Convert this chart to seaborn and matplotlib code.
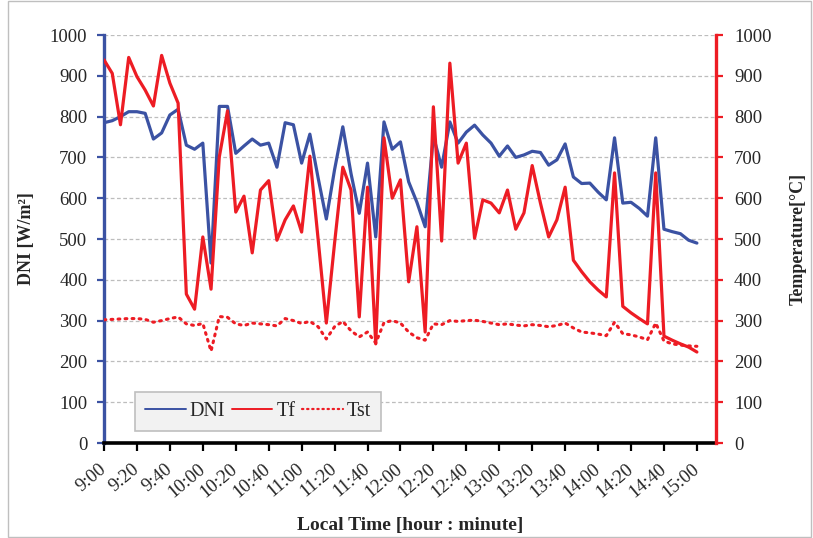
import matplotlib
matplotlib.use("Agg")
import matplotlib.pyplot as plt
import seaborn as sns
import pandas as pd
from matplotlib.patches import Rectangle
from matplotlib.lines import Line2D

# ---- data (5-minute grid from 9:00 to 15:00) ----
minutes = list(range(0, 361, 5))
dni = [785, 790, 800, 812, 812, 808, 745, 760, 804, 818, 730, 720, 735, 441, 825,
       825, 710, 728, 745, 730, 735, 676, 785, 780, 686, 757, 650, 549, 670, 775,
       660, 563, 686, 505, 787, 720, 738, 640, 590, 530, 752, 676, 787, 735, 762,
       779, 755, 735, 703, 728, 700, 706, 715, 712, 681, 694, 733, 652, 636, 637,
       615, 596, 748, 588, 590, 575, 556, 748, 524, 518, 513, 497, 490]
tf = [939, 906, 780, 945, 898, 865, 826, 950, 882, 833, 365, 328, 505, 377, 701,
      814, 566, 605, 466, 620, 643, 497, 547, 581, 517, 703, 500, 294, 490, 676,
      620, 309, 627, 243, 748, 600, 645, 395, 530, 272, 824, 495, 931, 686, 735,
      502, 596, 588, 564, 620, 524, 564, 680, 588, 505, 547, 627, 448, 420, 395,
      375, 358, 662, 335, 319, 305, 292, 662, 262, 252, 243, 235, 223]
tst = [302, 303, 304, 305, 305, 303, 296, 300, 305, 309, 292, 288, 293, 225, 310,
       308, 292, 288, 294, 292, 290, 287, 305, 300, 293, 298, 285, 255, 285, 298,
       275, 260, 272, 245, 295, 300, 294, 272, 258, 252, 292, 290, 300, 298, 300,
       301, 298, 294, 290, 292, 289, 287, 290, 288, 285, 288, 294, 282, 272, 270,
       267, 263, 296, 268, 265, 260, 253, 294, 250, 243, 240, 238, 237]
tick_minutes = list(range(0, 361, 20))
tick_labels = ["9:00", "9:20", "9:40", "10:00", "10:20", "10:40", "11:00", "11:20",
               "11:40", "12:00", "12:20", "12:40", "13:00", "13:20", "13:40",
               "14:00", "14:20", "14:40", "15:00"]
y_ticks = list(range(0, 1001, 100))

df = pd.DataFrame({"t": minutes, "DNI": dni, "Tf": tf, "Tst": tst})

BLUE = "#3B52A3"
RED = "#ED1C24"
DOT = (0, (0.6, 1.7))

sns.set_theme(style="white")
plt.rcParams["font.family"] = ["Liberation Serif", "DejaVu Serif"]

fig = plt.figure(figsize=(8.13, 5.38), dpi=100)
ax = fig.add_axes([104 / 813, 1 - 443 / 538, 612 / 813, 408 / 538])
ax2 = ax.twinx()

sns.lineplot(data=df, x="t", y="DNI", ax=ax, color=BLUE, linewidth=2.3, legend=False)
sns.lineplot(data=df, x="t", y="Tf", ax=ax2, color=RED, linewidth=2.3, legend=False)
sns.lineplot(data=df, x="t", y="Tst", ax=ax2, color=RED, linewidth=2.2, legend=False,
             linestyle=DOT, dash_capstyle="round")

for a in (ax, ax2):
    a.set_xlim(0, 371.6)
    a.set_ylim(0, 1000)
    a.set_yticks(y_ticks)
    a.set_xlabel("")
    a.set_ylabel("")

ax.set_xticks(tick_minutes)
ax.set_xticklabels(tick_labels, rotation=40, ha="right", va="center",
                   rotation_mode="anchor", fontsize=13.5)
ax.set_yticklabels([str(v) for v in y_ticks], fontsize=13.5)
ax2.set_yticklabels([str(v) for v in y_ticks], fontsize=13.5)

ax.yaxis.grid(True, color="#BDBDBD", linestyle=(0, (3, 2)), linewidth=0.9)
ax.xaxis.grid(False)
ax2.grid(False)

for a in (ax, ax2):
    for s in a.spines.values():
        s.set_visible(False)
ax.spines["left"].set_visible(True)
ax.spines["left"].set_color(BLUE)
ax.spines["left"].set_linewidth(2.4)
ax.spines["bottom"].set_visible(True)
ax.spines["bottom"].set_color("black")
ax.spines["bottom"].set_linewidth(2.6)
ax2.spines["right"].set_visible(True)
ax2.spines["right"].set_color(RED)
ax2.spines["right"].set_linewidth(2.4)

ax.tick_params(axis="x", direction="out", length=6, width=1.6, color="black", bottom=True, pad=11)
ax.tick_params(axis="y", direction="out", length=5, width=1.6, color=BLUE, left=True, pad=7)
ax2.tick_params(axis="y", direction="out", length=5, width=1.6, color=RED, right=True, pad=8)

ax.set_ylabel("DNI [W/m²]", fontsize=13, fontweight="bold", labelpad=11)
ax2.set_ylabel("Temperature[°C]", fontsize=13, fontweight="bold", labelpad=13)
ax.set_xlabel("Local Time [hour : minute]", fontsize=14, fontweight="bold", labelpad=12)

handles = [Line2D([], [], color=BLUE, linewidth=1.4),
           Line2D([], [], color=RED, linewidth=1.4),
           Line2D([], [], color=RED, linewidth=1.6, linestyle=DOT, dash_capstyle="round")]
leg = ax2.legend(handles, ["DNI", "Tf", "Tst"], loc="lower left", bbox_to_anchor=(0.051, 0.03),
                 ncol=3, fontsize=14.5, frameon=True, fancybox=False, framealpha=1,
                 facecolor="#F2F2F2", edgecolor="#BFBFBF", handlelength=2.0,
                 columnspacing=0.35, handletextpad=0.2, borderpad=0.5, borderaxespad=0)
leg.get_frame().set_linewidth(1.2)

fig.patches.append(Rectangle((8 / 813, 1 / 538), 803 / 813, 536 / 538, transform=fig.transFigure,
                             fill=False, edgecolor="#BFBFBF", linewidth=1.0))

fig.savefig("out.png", dpi=100)
